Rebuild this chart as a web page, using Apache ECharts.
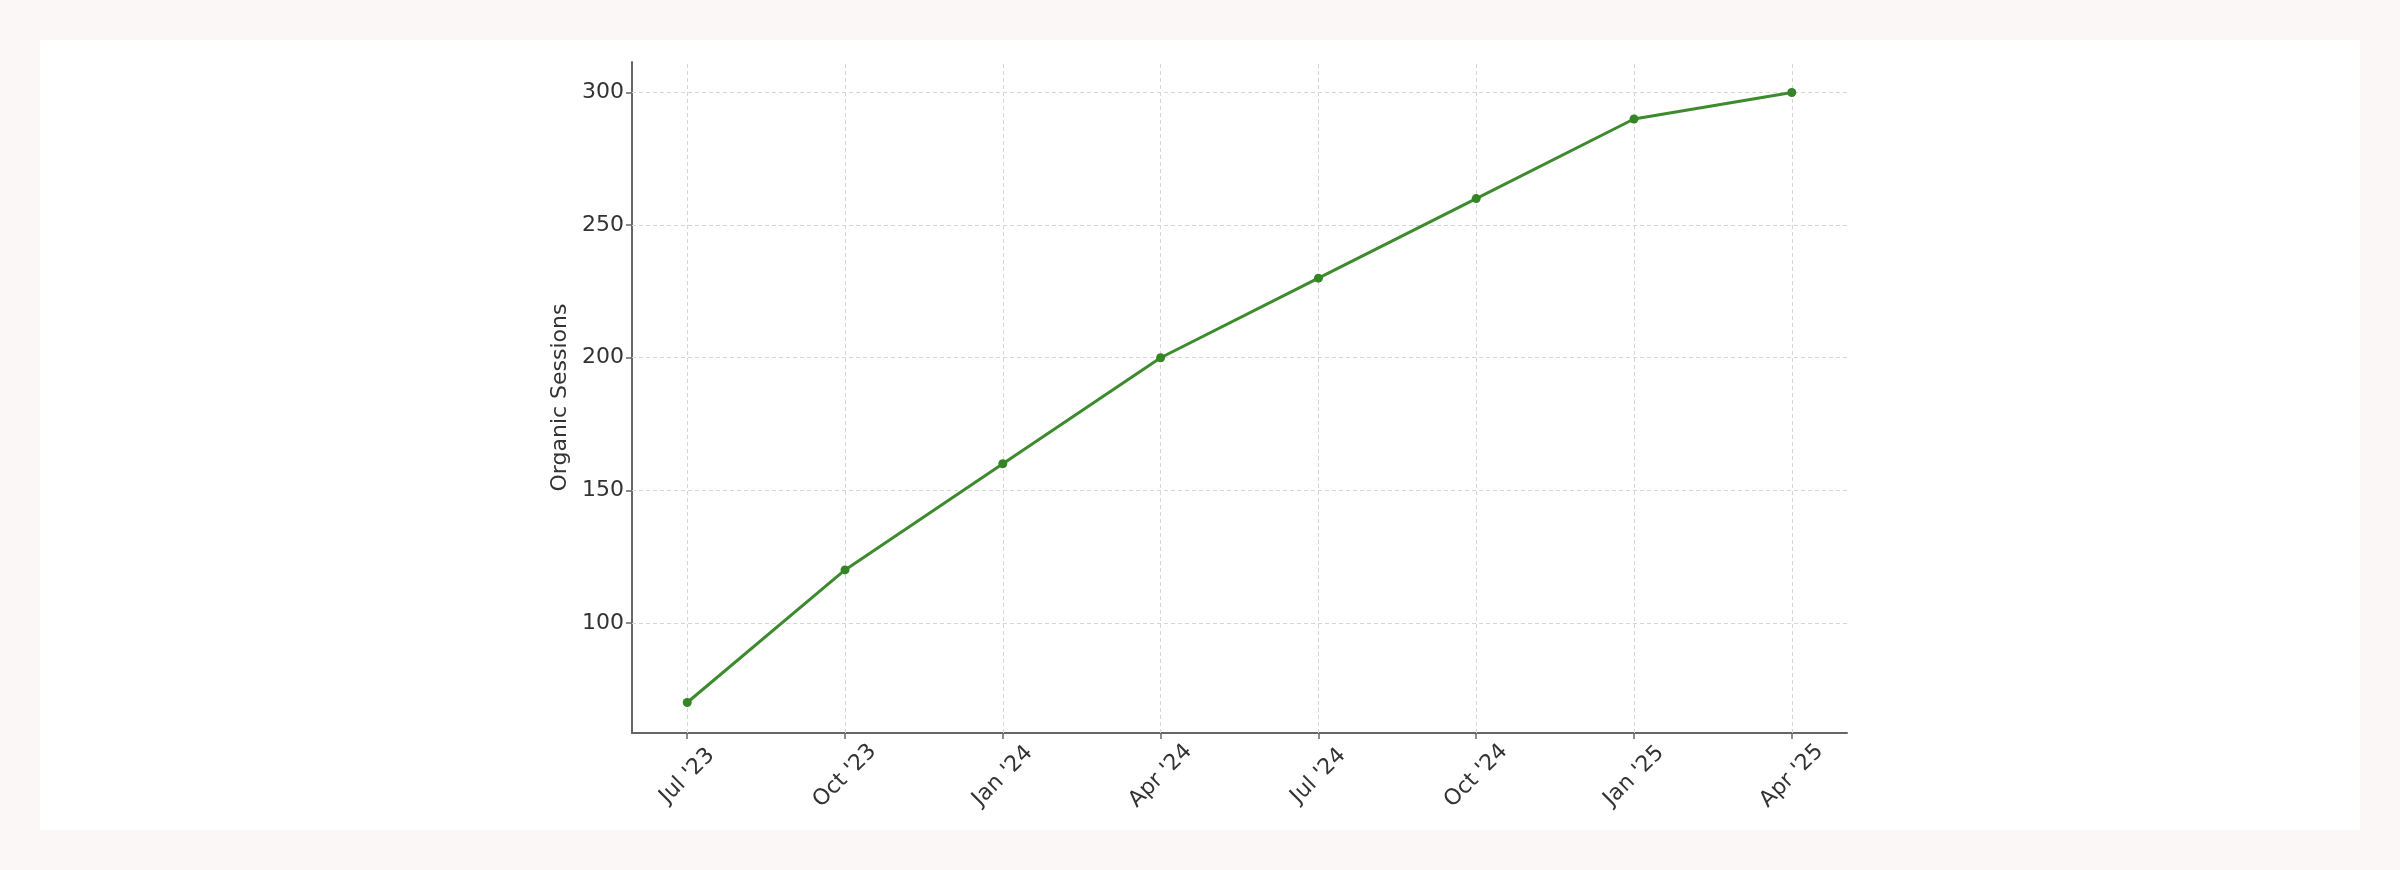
<!DOCTYPE html>
<html>
<head>
<meta charset="utf-8">
<script src="https://cdn.jsdelivr.net/npm/echarts@6/dist/echarts.min.js"></script>
<style>
  html, body { margin: 0; padding: 0; background: #fbf7f7; }
  #card { position: absolute; left: 40px; top: 40px; width: 2320px; height: 790px; background: #ffffff; }
  #chart { position: absolute; left: 0; top: 0; width: 2400px; height: 870px; }
</style>
</head>
<body>
<div id="card"></div>
<div id="chart"></div>
<script>
const categories = ["Jul '23", "Oct '23", "Jan '24", "Apr '24", "Jul '24", "Oct '24", "Jan '25", "Apr '25"];
const sessions = [70, 120, 160, 200, 230, 260, 290, 300];
const yTicks = [100, 150, 200, 250, 300];
const yAxisName = 'Organic Sessions';

const xIdx = categories.map((c, i) => i);
const n = categories.length;
const xPad = (n - 1) * 0.05;
const yMinData = Math.min(...sessions), yMaxData = Math.max(...sessions);
const yPad = (yMaxData - yMinData) * 0.05;

const chart = echarts.init(document.getElementById('chart'), null, { renderer: 'canvas' });
const textColor = '#333333';
const axisColor = '#666666';
const font = 'DejaVu Sans';

chart.setOption({
  backgroundColor: 'transparent',
  animation: false,
  grid: { left: 632, right: 553, top: 62, bottom: 137, containLabel: false },
  xAxis: {
    type: 'value',
    min: -xPad,
    max: (n - 1) + xPad,
    axisLine: { show: true, onZero: false, lineStyle: { color: axisColor, width: 2 } },
    axisTick: { show: true, length: 6, customValues: xIdx, lineStyle: { color: axisColor, width: 1.5 } },
    axisLabel: {
      customValues: xIdx,
      formatter: v => categories[Math.round(v)],
      rotate: 45,
      align: 'center',
      verticalAlign: 'middle',
      margin: 43,
      fontFamily: font,
      fontSize: 22,
      color: textColor
    },
    splitLine: { show: false }
  },
  yAxis: {
    type: 'value',
    min: yMinData - yPad,
    max: yMaxData + yPad,
    name: yAxisName,
    nameLocation: 'middle',
    nameGap: 58,
    nameTextStyle: { fontFamily: font, fontSize: 22, color: textColor },
    axisLine: { show: true, onZero: false, lineStyle: { color: axisColor, width: 2 } },
    axisTick: { show: true, length: 6, customValues: yTicks, lineStyle: { color: axisColor, width: 1.5 } },
    axisLabel: {
      customValues: yTicks,
      margin: 8,
      fontFamily: font,
      fontSize: 22,
      color: textColor
    },
    splitLine: { show: false }
  },
  series: [
    {
      type: 'line',
      data: sessions.map((v, i) => [xIdx[i], v]),
      symbol: 'circle',
      symbolSize: 9,
      lineStyle: { color: '#3d8b2e', width: 3 },
      itemStyle: { color: '#358526' },
      z: 5,
      markLine: {
        silent: true,
        symbol: 'none',
        label: { show: false },
        lineStyle: { color: '#d6d6d6', type: [4, 3], width: 1 },
        data: [
          ...xIdx.map(i => ({ xAxis: i })),
          ...yTicks.map(v => ({ yAxis: v }))
        ]
      }
    }
  ]
});
</script>
</body>
</html>
